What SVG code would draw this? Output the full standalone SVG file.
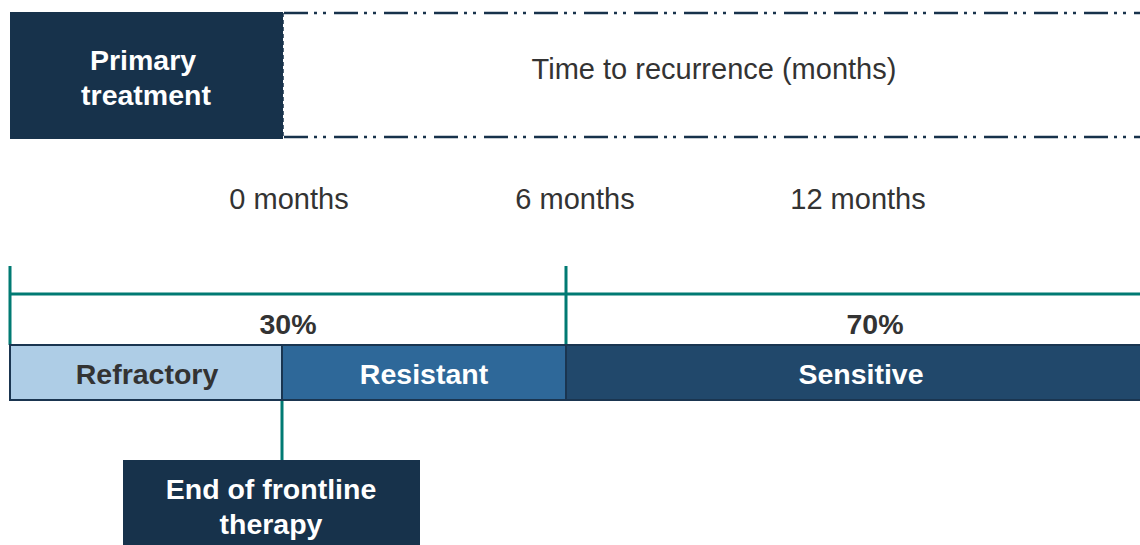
<svg xmlns="http://www.w3.org/2000/svg" width="1140" height="545" viewBox="0 0 1140 545">
<style>
.bold{font-family:"Liberation Sans",Arial,sans-serif;font-weight:bold;font-size:28.5px;text-anchor:middle}
.reg{font-family:"Liberation Sans",Arial,sans-serif;font-size:29px;text-anchor:middle;fill:#333}
.teal{stroke:#007a73;stroke-width:3;fill:none}
.dash{stroke:#17324b;stroke-width:2.5;fill:none;stroke-dasharray:24 6 3 6 3 8}
.w{fill:#fff}
.d{fill:#333}
</style>
<rect width="1140" height="545" fill="#fff"/>
<g id="primary">
<rect x="10" y="12" width="273" height="127" fill="#17324b"/>
<text class="bold w" x="143" y="70">Primary</text>
<text class="bold w" x="146" y="105">treatment</text>
</g>
<g id="recurrence">
<path class="dash" d="M284 13 H1140 M284 137 H1140"/>
<path d="M283 13 V137" stroke="#17324b" stroke-width="1.5" stroke-dasharray="4 3" fill="none"/>
<text class="reg" x="714" y="79">Time to recurrence (months)</text>
</g>
<g id="labels">
<text class="reg" x="289" y="209">0 months</text>
<text class="reg" x="575" y="209">6 months</text>
<text class="reg" x="858" y="209">12 months</text>
<text class="bold d" x="288" y="334">30%</text>
<text class="bold d" x="875" y="334">70%</text>
</g>
<g id="connectors">
<path class="teal" d="M10 266 V345 M566 266 V345 M10 294 H1140 M282 400 V460"/>
</g>
<g id="refractory">
<rect x="10" y="345" width="272" height="55" fill="#aecde6" stroke="#1a3550" stroke-width="2"/>
<text class="bold d" x="147" y="384">Refractory</text>
</g>
<g id="resistant">
<rect x="282" y="345" width="284" height="55" fill="#2e6899" stroke="#1a3550" stroke-width="2"/>
<text class="bold w" x="424" y="384">Resistant</text>
</g>
<g id="sensitive">
<rect x="566" y="345" width="576" height="55" fill="#21486b" stroke="#1a3550" stroke-width="2"/>
<text class="bold w" x="861" y="384">Sensitive</text>
</g>
<g id="endfrontline">
<rect x="123" y="460" width="297" height="90" fill="#17324b"/>
<text class="bold w" x="271" y="499">End of frontline</text>
<text class="bold w" x="271" y="534">therapy</text>
</g>
</svg>
